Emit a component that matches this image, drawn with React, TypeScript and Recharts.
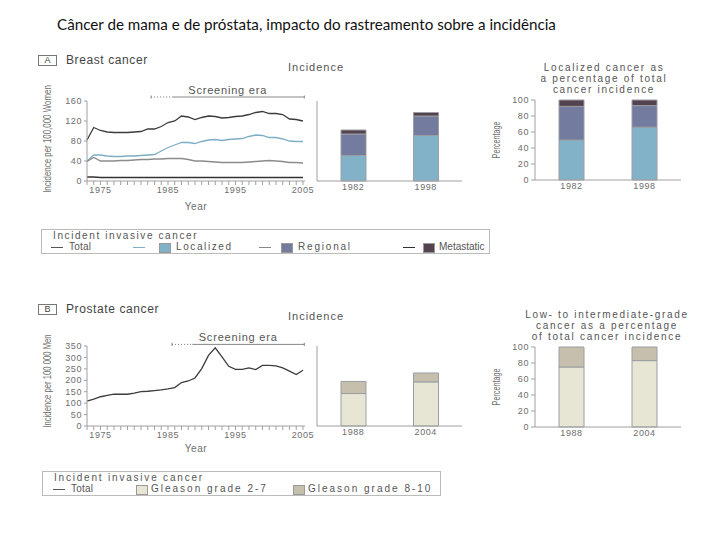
import React from "react";
import { LineChart, Line, BarChart, Bar, XAxis, YAxis, ReferenceLine, Label } from "recharts";

const years = [
  1973, 1974, 1975, 1976, 1977, 1978, 1979, 1980, 1981, 1982, 1983, 1984, 1985, 1986, 1987, 1988, 1989,
  1990, 1991, 1992, 1993, 1994, 1995, 1996, 1997, 1998, 1999, 2000, 2001, 2002, 2003, 2004, 2005,
];
const yearLabels = [1975, 1985, 1995, 2005];

// breast cancer incidence per 100 000 women
const breastTotal = [82, 107, 101, 98, 97, 97, 97, 98, 99, 104, 104, 109, 117, 120, 130, 128, 123, 127, 130, 129, 126, 127, 129, 130, 133, 137, 139, 135, 135, 133, 124, 123, 120];
const breastLocalized = [40, 52, 52, 50, 49, 49, 50, 50, 51, 52, 53, 60, 67, 72, 77, 77, 75, 79, 82, 83, 81, 83, 84, 85, 89, 92, 91, 87, 87, 84, 80, 79, 79];
const breastRegional = [39, 47, 40, 40, 40, 41, 41, 42, 43, 43, 44, 44, 45, 45, 45, 43, 40, 40, 39, 38, 37, 37, 37, 37, 38, 39, 40, 41, 40, 39, 37, 37, 36];
const breastMetastatic = [8, 8, 7, 7, 7, 7, 7, 7, 7, 7, 7, 7, 7, 7, 7, 7, 7, 7, 7, 7, 7, 7, 7, 7, 7, 7, 7, 7, 7, 7, 7, 7, 7];

// prostate cancer incidence per 100 000 men
const prostateTotal = [109, 118, 128, 134, 139, 139, 139, 144, 150, 152, 155, 158, 162, 168, 190, 197, 210, 251, 309, 342, 302, 261, 248, 248, 254, 247, 265, 265, 263, 254, 240, 225, 244];

const breastBarYears = ["1982", "1998"];
const breastBarLocalized = [51, 91];
const breastBarRegional = [43, 39];
const breastBarMetastatic = [8, 7];
const breastPctLocalized = [50, 66];
const breastPctRegional = [42, 27];
const breastPctMetastatic = [8, 7];

const prostateBarYears = ["1988", "2004"];
const prostateLowGrade = [142, 193];
const prostateHighGrade = [53, 39];
const prostatePctLow = [75, 83];
const prostatePctHigh = [25, 17];

const breastTicks = [0, 40, 80, 120, 160];
const prostateTicks = [0, 50, 100, 150, 200, 250, 300, 350];
const pctTicks = [0, 20, 40, 60, 80, 100];

const FONT = "'Liberation Sans', Arial, Helvetica, sans-serif";
const AXIS = "#a0a0a0";
const TEXT = "#6e6e6e";
const C_LOCAL = "#82b2c8";
const C_REGION = "#737b9e";
const C_META = "#54434f";
const C_LOW = "#e7e5d3";
const C_HIGH = "#c6bfad";
const C_EDGE = "#9a9ea2";

const tickStyle = { fontSize: 9, fill: TEXT, fontFamily: FONT, letterSpacing: 0.6 };

const breastLineData = years.map((y, i) => ({
  year: y,
  total: breastTotal[i],
  localized: breastLocalized[i],
  regional: breastRegional[i],
  metastatic: breastMetastatic[i],
}));
const prostateLineData = years.map((y, i) => ({ year: y, total: prostateTotal[i] }));

const breastBars = breastBarYears.map((y, i) => ({
  year: y,
  localized: breastBarLocalized[i],
  regional: breastBarRegional[i],
  metastatic: breastBarMetastatic[i],
}));
const breastPct = breastBarYears.map((y, i) => ({
  year: y,
  localized: breastPctLocalized[i],
  regional: breastPctRegional[i],
  metastatic: breastPctMetastatic[i],
}));
const prostateBars = prostateBarYears.map((y, i) => ({ year: y, low: prostateLowGrade[i], high: prostateHighGrade[i] }));
const prostatePct = prostateBarYears.map((y, i) => ({ year: y, low: prostatePctLow[i], high: prostatePctHigh[i] }));

const abs = (left: number, top: number): React.CSSProperties => ({ position: "absolute", left, top });

// condensed rotated axis title (the scan's font is narrow and tall)
const vLabel = (text: string, size: number, squeeze: number, cx: number, dy = 0) => (props: any) => {
  const vb = props.viewBox || { x: 0, y: 0, width: 0, height: 0 };
  const x = vb.x + cx;
  const y = vb.y + vb.height / 2 + dy;
  return (
    <g transform={`translate(${x} ${y}) rotate(-90) scale(${squeeze} 1)`}>
      <text x={0} y={0} textAnchor="middle" dominantBaseline="central" fontSize={size} fill={TEXT} fontFamily={FONT}>
        {text}
      </text>
    </g>
  );
};

function Bracket({ y, x0, x1, x2, h }: { y: number; x0: number; x1: number; x2: number; h: number }) {
  return [
    <ReferenceLine key="lbl" segment={[{ x: x0, y }, { x: x2, y }]} stroke="none" ifOverflow="visible"
      label={{ value: "Screening era", position: "top", offset: 3, fontSize: 11, fill: "#555", fontFamily: FONT, letterSpacing: 0.8 }} />,
    <ReferenceLine key="dot" segment={[{ x: x0, y }, { x: x1, y }]} stroke="#777" strokeDasharray="1 2" ifOverflow="visible" />,
    <ReferenceLine key="sol" segment={[{ x: x1, y }, { x: x2, y }]} stroke="#888" ifOverflow="visible" />,
    <ReferenceLine key="e0" segment={[{ x: x0, y: y - h }, { x: x0, y: y + h }]} stroke="#888" ifOverflow="visible" />,
    <ReferenceLine key="e1" segment={[{ x: x2, y: y - h }, { x: x2, y: y + h }]} stroke="#888" ifOverflow="visible" />,
  ];
}

function yearAxis(labelOffset: number) {
  return (
    <XAxis dataKey="year" type="number" domain={[1973, 2005.3]} ticks={years} interval={0} height={39}
      tickFormatter={(v: number) => (yearLabels.includes(v) ? String(v) : "")}
      tick={tickStyle} tickSize={4} tickMargin={2} axisLine={{ stroke: AXIS }} tickLine={{ stroke: AXIS }}
      label={{ value: "Year", position: "insideBottom", offset: labelOffset, fontSize: 10, fill: TEXT, fontFamily: FONT, letterSpacing: 0.6 }} />
  );
}

function PanelTag({ left, top, tag, text }: { left: number; top: number; tag: string; text: string }) {
  return (
    <div style={{ ...abs(left, top), display: "flex", alignItems: "center", fontFamily: FONT, color: "#444" }}>
      <div style={{ width: 17, height: 9, border: "1px solid #777", fontSize: 9, lineHeight: "9px", textAlign: "center" }}>{tag}</div>
      <div style={{ marginLeft: 9, fontSize: 12, letterSpacing: 0.6 }}>{text}</div>
    </div>
  );
}

function SmallTitle({ left, top, width, lines }: { left: number; top: number; width: number; lines: string[] }) {
  return (
    <div style={{ ...abs(left, top), width, textAlign: "center", fontFamily: FONT, fontSize: 10, lineHeight: "11px", letterSpacing: 1.7, color: "#555" }}>
      {lines.map((l) => (
        <div key={l}>{l}</div>
      ))}
    </div>
  );
}

type LegendItem = { label: string; x: number; ls: number; line?: [number, string]; box?: [number, string] };

function LegendBox({ left, top, width, titleLs, items }: { left: number; top: number; width: number; titleLs: number; items: LegendItem[] }) {
  const rowTop = 11;
  return (
    <div style={{ ...abs(left, top), width, height: 25, border: "1px solid #bbb", fontFamily: FONT, fontSize: 10, color: "#555", boxSizing: "border-box" }}>
      <div style={{ position: "absolute", left: 11, top: 0, lineHeight: "12px", letterSpacing: titleLs, whiteSpace: "nowrap" }}>Incident invasive cancer</div>
      {items.map((it) => (
        <React.Fragment key={it.label}>
          {it.line && <div style={{ position: "absolute", left: it.line[0], top: rowTop + 6, width: 12, height: 1, background: it.line[1] }} />}
          {it.box && <div style={{ position: "absolute", left: it.box[0], top: rowTop + 2, width: 10, height: 8, background: it.box[1], border: "1px solid #999" }} />}
          <div style={{ position: "absolute", left: it.x, top: rowTop, lineHeight: "12px", letterSpacing: it.ls, whiteSpace: "nowrap" }}>{it.label}</div>
        </React.Fragment>
      ))}
    </div>
  );
}

function stackedBar(key: string, fill: string) {
  return <Bar key={key} dataKey={key} stackId="s" fill={fill} stroke={C_EDGE} strokeWidth={1} barSize={25} isAnimationActive={false} />;
}

function IncidenceBars({ data, keys, fills, max, ticks }: { data: any[]; keys: string[]; fills: string[]; max: number; ticks: number[] }) {
  return (
    <BarChart width={180} height={160} data={data} margin={{ top: 41, right: 18, left: 0, bottom: 0 }}>
      <XAxis dataKey="year" height={39} tickLine={false} tickSize={2} tickMargin={1} tick={tickStyle} axisLine={{ stroke: AXIS }} />
      <YAxis domain={[0, max]} ticks={ticks} interval={0} width={17} tick={false} tickSize={4} axisLine={{ stroke: AXIS }} tickLine={{ stroke: AXIS }} />
      {keys.map((k, i) => stackedBar(k, fills[i]))}
    </BarChart>
  );
}

function PercentBars({ data, keys, fills, top }: { data: any[]; keys: string[]; fills: string[]; top: number }) {
  return (
    <BarChart width={210} height={top + 81 + 39 - 1} data={data} margin={{ top, right: 9, left: 0, bottom: 0 }}>
      <XAxis dataKey="year" height={39} tickLine={false} tickSize={2} tickMargin={1} tick={tickStyle} axisLine={{ stroke: AXIS }} />
      <YAxis domain={[0, 100]} ticks={pctTicks} interval={0} width={55} tick={tickStyle} tickSize={4} tickMargin={2} axisLine={{ stroke: AXIS }} tickLine={{ stroke: AXIS }}
        label={<Label content={vLabel("Percentage", 10, 0.72, 17)} />} />
      {keys.map((k, i) => stackedBar(k, fills[i]))}
    </BarChart>
  );
}

export default function App() {
  return (
    <div style={{ position: "absolute", left: 0, top: 0, width: 720, height: 540, background: "#fff", overflow: "hidden" }}>
      <div style={{ ...abs(57, 15), fontFamily: "Lato, 'Open Sans', sans-serif", fontSize: 15.2, color: "#111", whiteSpace: "nowrap" }}>
        Câncer de mama e de próstata, impacto do rastreamento sobre a incidência
      </div>

      {/* A: breast cancer */}
      <PanelTag left={38} top={53} tag="A" text="Breast cancer" />
      <div style={abs(0, 60)}>
        <LineChart width={320} height={160} data={breastLineData} margin={{ top: 41, right: 15, left: 0, bottom: 0 }}>
          {yearAxis(10)}
          <YAxis domain={[0, 160]} ticks={breastTicks} interval={0} width={87} tick={tickStyle} tickSize={3} tickMargin={2} axisLine={{ stroke: AXIS }} tickLine={{ stroke: AXIS }}
            label={<Label content={vLabel("Incidence per 100,000 Women", 11, 0.72, 47, -2)} />} />
          {Bracket({ y: 168, x0: 1982.5, x1: 1985.7, x2: 2005.2, h: 3 })}
          <Line dataKey="total" stroke="#3c3c3c" strokeWidth={1.3} dot={false} isAnimationActive={false} />
          <Line dataKey="localized" stroke="#7eaec6" strokeWidth={1.3} dot={false} isAnimationActive={false} />
          <Line dataKey="regional" stroke="#8c8c8c" strokeWidth={1.3} dot={false} isAnimationActive={false} />
          <Line dataKey="metastatic" stroke="#333" strokeWidth={1.3} dot={false} isAnimationActive={false} />
        </LineChart>
      </div>
      <div style={{ ...abs(288, 61), fontFamily: FONT, fontSize: 11, letterSpacing: 1, color: "#555" }}>Incidence</div>
      <div style={abs(300, 60)}>
        <IncidenceBars data={breastBars} keys={["localized", "regional", "metastatic"]} fills={[C_LOCAL, C_REGION, C_META]} max={160} ticks={breastTicks} />
      </div>
      <SmallTitle left={519} top={62} width={170} lines={["Localized cancer as", "a percentage of total", "cancer incidence"]} />
      <div style={abs(480, 60)}>
        <PercentBars data={breastPct} keys={["localized", "regional", "metastatic"]} fills={[C_LOCAL, C_REGION, C_META]} top={40} />
      </div>
      <LegendBox left={41} top={229} width={449} titleLs={1.6} items={[
        { label: "Total", x: 27, ls: 0.2, line: [9, "#555"] },
        { label: "Localized", x: 134, ls: 1.6, line: [91, "#7eaec6"], box: [117, C_LOCAL] },
        { label: "Regional", x: 256, ls: 1.8, line: [217, "#888"], box: [239, C_REGION] },
        { label: "Metastatic", x: 397, ls: 0, line: [361, "#333"], box: [381, C_META] },
      ]} />

      {/* B: prostate cancer */}
      <PanelTag left={38} top={302} tag="B" text="Prostate cancer" />
      <div style={abs(0, 305)}>
        <LineChart width={320} height={160} data={prostateLineData} margin={{ top: 41, right: 15, left: 0, bottom: 0 }}>
          {yearAxis(13)}
          <YAxis domain={[0, 350]} ticks={prostateTicks} interval={0} width={87} tick={tickStyle} tickSize={3} tickMargin={2} axisLine={{ stroke: AXIS }} tickLine={{ stroke: AXIS }}
            label={<Label content={vLabel("Incidence per 100 000 Men", 11, 0.7, 47, -5)} />} />
          {Bracket({ y: 357, x0: 1985.6, x1: 1988.6, x2: 2005.2, h: 7 })}
          <Line dataKey="total" stroke="#3c3c3c" strokeWidth={1.3} dot={false} isAnimationActive={false} />
        </LineChart>
      </div>
      <div style={{ ...abs(288, 310), fontFamily: FONT, fontSize: 11, letterSpacing: 1, color: "#555" }}>Incidence</div>
      <div style={abs(300, 305)}>
        <IncidenceBars data={prostateBars} keys={["low", "high"]} fills={[C_LOW, C_HIGH]} max={350} ticks={prostateTicks} />
      </div>
      <SmallTitle left={512} top={309} width={190} lines={["Low- to intermediate-grade", "cancer as a percentage", "of total cancer incidence"]} />
      <div style={abs(480, 305)}>
        <PercentBars data={prostatePct} keys={["low", "high"]} fills={[C_LOW, C_HIGH]} top={42} />
      </div>
      <LegendBox left={42} top={471} width={399} titleLs={1.8} items={[
        { label: "Total", x: 28, ls: 0.2, line: [10, "#555"] },
        { label: "Gleason grade 2-7", x: 108, ls: 2, box: [93, C_LOW] },
        { label: "Gleason grade 8-10", x: 265, ls: 2, box: [250, C_HIGH] },
      ]} />
    </div>
  );
}
